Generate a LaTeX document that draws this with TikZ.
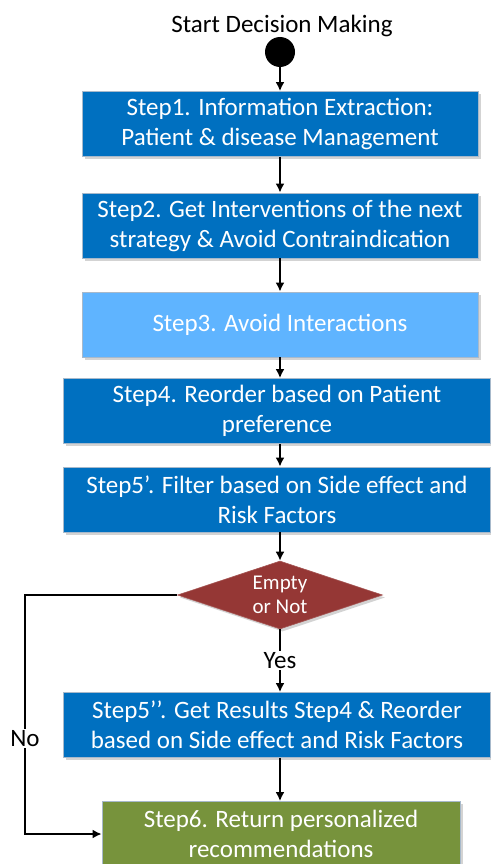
\documentclass[tikz,border=0pt]{standalone}
\usepackage{fontspec}
\setmainfont{Carlito}
\usetikzlibrary{arrows.meta,shapes.geometric,shadows}
\definecolor{fcBlue}{HTML}{0070C0}
\definecolor{fcSky}{HTML}{5FB4FF}
\definecolor{fcRed}{HTML}{953735}
\definecolor{fcGreen}{HTML}{77933C}
\definecolor{fcInk}{HTML}{000000}
\definecolor{fcEdge}{HTML}{A7B9CB}
\newcommand{\FCType}{\fontsize{25}{30}\selectfont}
\newcommand{\FCSmall}{\fontsize{21}{24}\selectfont}
\tikzset{fc/base/.style={x=1pt,y=-1pt,line cap=butt,line join=miter,
  every node/.style={font=\FCType,inner sep=0pt,text=fcInk}},
  fc/arrow/.style={-{Latex[length=9pt,width=9pt]},draw=fcInk,line width=1.9pt},
  fc/shade/.style={drop shadow={shadow xshift=2.5pt,shadow yshift=-2.5pt,opacity=.35}},
  fc/step/.style={fc/shade,draw=fcEdge,line width=.8pt,fill=fcBlue,text=white,
    minimum width=396pt,minimum height=65pt,align=center},
  fc/wide/.style={fc/step,minimum width=427pt},
  fc/test/.style={fc/shade,shape=diamond,aspect=3,draw=fcRed!85!white,line width=.6pt,
    fill=fcRed,text=white,font=\FCSmall,minimum width=205pt,minimum height=68pt,align=center},
  fc/tag/.style={fill=white,inner sep=1.5pt}}

\begin{document}
\begin{tikzpicture}[fc/base]
  \useasboundingbox (0,0) rectangle (490,864);
  \node (title) at (282,26) {Start Decision Making};
  \node[circle,fill=black,minimum size=30pt] (start) at (280,52) {};
  \node[fc/step] (b1) at (280,124) {Step1. Information Extraction:\\Patient \& disease Management};
  \node[fc/step] (b2) at (280,225.5) {Step2. Get Interventions of the next\\strategy \& Avoid Contraindication};
  \node[fc/step,fill=fcSky] (b3) at (280,324.5) {Step3. Avoid Interactions};
  \node[fc/wide] (b4) at (277,411) {Step4. Reorder based on Patient\\preference};
  \node[fc/wide] (b5a) at (277,499.5) {Step5’. Filter based on Side effect and\\Risk Factors};
  \node[fc/test] (dia) at (280,595) {Empty\\or Not};
  \node[fc/wide] (b5b) at (277,725) {Step5’’. Get Results Step4 \& Reorder\\based on Side effect and Risk Factors};
  \node[fc/step,fill=fcGreen,minimum width=358pt] (b6) at (281,834) {Step6. Return personalized\\recommendations};
  \coordinate (noturn) at (25,595);
  % main flow
  \draw[fc/arrow] (start) -- (start |- b1.north);
  \draw[fc/arrow] (b1) -- (b1 |- b2.north);
  \draw[fc/arrow] (b2) -- (b2 |- b3.north);
  \draw[fc/arrow] (b3) -- (b3 |- b4.north);
  \draw[fc/arrow] (b3 |- b4.south) -- (b3 |- b5a.north);
  \draw[fc/arrow] (dia |- b5a.south) -- (dia.north);
  \draw[fc/arrow] (dia.south) -- node[fc/tag] (yes) {Yes} (dia |- b5b.north);
  \draw[fc/arrow] (dia |- b5b.south) -- (dia |- b6.north);
  % no branch
  \draw[fc/arrow] (dia.west) -- (noturn) |- node[fc/tag,pos=.3] (no) {No} (b6.west);
\end{tikzpicture}
\end{document}
